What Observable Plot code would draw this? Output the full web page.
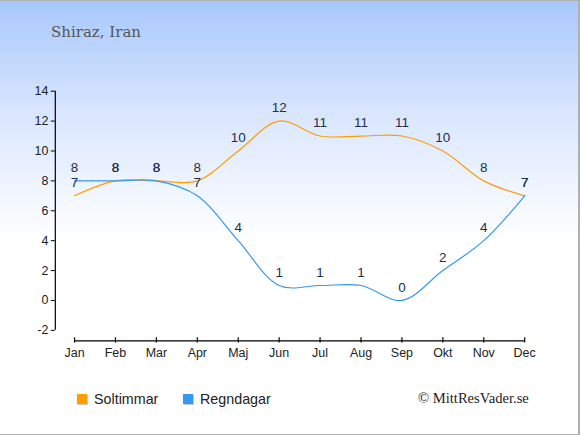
<!DOCTYPE html>
<html><head><meta charset="utf-8">
<script src="https://cdn.jsdelivr.net/npm/d3@7"></script>
<script src="https://cdn.jsdelivr.net/npm/@observablehq/plot@0.6"></script>
<style>
html,body{margin:0;padding:0;}
#wrap{position:relative;width:578px;height:433px;border-top:1px solid #b0b0b0;border-right:2px solid #b0b0b0;border-bottom:2px solid #b0b0b0;
background:linear-gradient(to bottom,#a8c8fd 0px,#d8e6fe 110px,#ffffff 240px,#ffffff 100%);overflow:hidden;font-family:"Liberation Sans",Arial,sans-serif;}
#chart{position:absolute;left:0;top:0px;}
#title{position:absolute;left:51px;top:22px;font-family:"DejaVu Serif",serif;font-size:15px;color:#555;}
.leg{position:absolute;top:390px;font-size:14.3px;color:#222;display:flex;align-items:center;}
.sq{width:10px;height:10px;margin-right:7px;box-shadow:1px 1px 0 #c8c8c8;}
#copy{position:absolute;left:418px;top:389px;font-family:"Liberation Serif",serif;font-size:14.6px;color:#222;}
</style></head>
<body>
<div id="wrap">
<div id="chart"></div>
<div id="title">Shiraz, Iran</div>
<div class="leg" style="left:77px"><div class="sq" style="background:#ff9d00"></div>Soltimmar</div>
<div class="leg" style="left:183px"><div class="sq" style="background:#3399ee"></div>Regndagar</div>
<div id="copy">© MittResVader.se</div>
</div>
<script>
const months = ["Jan","Feb","Mar","Apr","Maj","Jun","Jul","Aug","Sep","Okt","Nov","Dec"];
const soltimmar = [7,8,8,8,10,12,11,11,11,10,8,7];
const regndagar = [8,8,8,7,4,1,1,1,0,2,4,7];
const yTicks = [-2,0,2,4,6,8,10,12,14];

const data = months.map((m,i)=>({i, m, sol: soltimmar[i], regn: regndagar[i]}));

const chart = Plot.plot({
  width: 580, height: 435,
  marginLeft: 55, marginRight: 54, marginTop: 90, marginBottom: 94.5,
  style: {background: "transparent", fontFamily: "Liberation Sans, Arial, sans-serif"},
  x: {domain: [-0.47, 11], axis: null},
  y: {domain: [-2.7, 14], axis: null},
  marks: [
    Plot.ruleX([-0.47], {y1: -2, y2: 14, stroke: "#000", strokeWidth: 1.2}),
    Plot.ruleY([-2.7], {x1: 0, x2: 11, stroke: "#000", strokeWidth: 1.2}),
    Plot.axisY({ticks: yTicks, anchor: "left", tickSize: 4, tickPadding: 3, fontSize: 12.5, color: "#222", stroke: "#000", tickFormat: d => String(d)}),
    Plot.ruleX(d3.range(12), {x: d => d, y1: -2.85, y2: -2.5, stroke: "#000", strokeWidth: 1.2}),
    Plot.text(d3.range(12), {x: d => d, y: -2.7, text: d => months[d], dy: 12, fontSize: 12.5, fill: "#222"}),
    Plot.line(data, {x: "i", y: "sol", stroke: "#ff9d00", strokeWidth: 1.2, curve: "catmull-rom"}),
    Plot.line(data, {x: "i", y: "regn", stroke: "#3399ee", strokeWidth: 1.2, curve: "catmull-rom"}),
    Plot.text(data, {x: "i", y: "sol", text: d => String(d.sol), dy: -13, fontSize: 13.5, fill: "#1e2d4d"}),
    Plot.text(data, {x: "i", y: "regn", text: d => String(d.regn), dy: -13, fontSize: 13.5, fill: "#1e2d4d"})
  ]
});
document.getElementById("chart").appendChild(chart);
</script>
</body></html>
